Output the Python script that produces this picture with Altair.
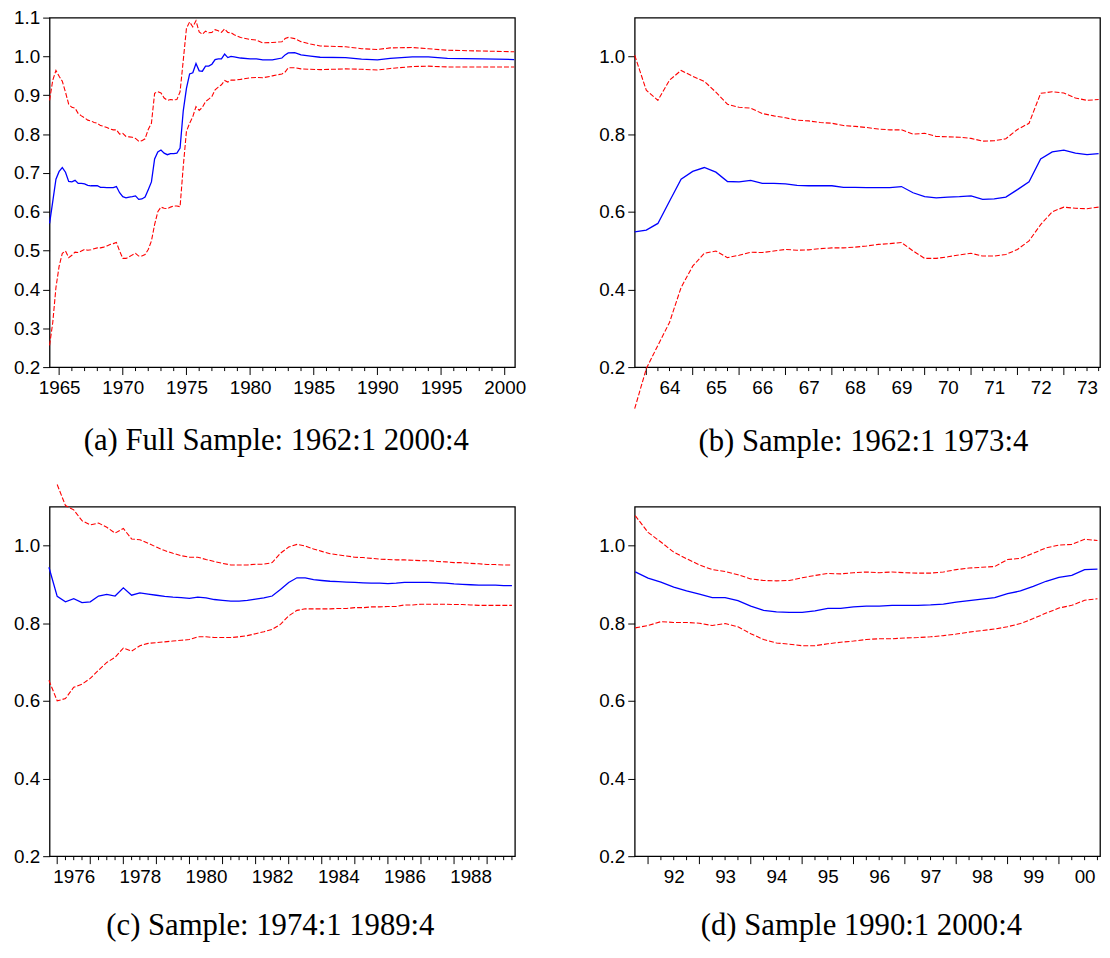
import altair as alt
import pandas as pd
import numpy as np

# ---------------- data ----------------
# Panel (b): recursive estimates, sample 1962:1-1973:4, quarterly 1963:4 .. 1973:4
b_t = [1963.75 + 0.25 * i for i in range(41)]
b_mid = [0.548, 0.553, 0.570, 0.627, 0.684, 0.704, 0.714, 0.702, 0.678, 0.677,
         0.681, 0.673, 0.673, 0.672, 0.668, 0.667, 0.667, 0.667, 0.663, 0.663,
         0.662, 0.662, 0.662, 0.665, 0.649, 0.639, 0.636, 0.638, 0.639, 0.641,
         0.632, 0.633, 0.638, 0.657, 0.677, 0.736, 0.754, 0.759, 0.751, 0.747,
         0.750]
b_up = [1.003, 0.913, 0.887, 0.939, 0.964, 0.949, 0.936, 0.908, 0.877, 0.869,
        0.867, 0.853, 0.847, 0.842, 0.836, 0.834, 0.830, 0.828, 0.822, 0.820,
        0.817, 0.813, 0.811, 0.811, 0.800, 0.802, 0.794, 0.793, 0.792, 0.789,
        0.782, 0.783, 0.788, 0.812, 0.828, 0.905, 0.909, 0.906, 0.893, 0.887,
        0.889]
b_lo = [0.093, 0.196, 0.256, 0.315, 0.405, 0.460, 0.493, 0.499, 0.482, 0.488,
        0.496, 0.495, 0.499, 0.503, 0.501, 0.502, 0.505, 0.507, 0.507, 0.509,
        0.512, 0.516, 0.518, 0.521, 0.499, 0.480, 0.480, 0.484, 0.489, 0.493,
        0.486, 0.486, 0.490, 0.503, 0.525, 0.567, 0.600, 0.612, 0.609, 0.608,
        0.612]

# Panel (a): full sample; 1964:2-1973:4 identical to panel (b), then:
a_t2 = [1974.0, 1974.25, 1974.5, 1974.75, 1975.0, 1975.25, 1975.5, 1975.75,
        1976.0, 1976.25, 1976.5, 1976.75, 1977.0, 1977.25, 1977.5, 1977.75,
        1978.0, 1978.25, 1978.5, 1978.75, 1979.25, 1980.0, 1980.5, 1981.0,
        1981.75, 1982.5, 1982.75, 1983.0, 1983.5, 1984.0, 1984.75, 1985.5,
        1987.5, 1988.75, 1990.0, 1991.0, 1992.75, 1994.0, 1995.5, 1998.25,
        2000.75]
a_mid2 = [0.750, 0.751, 0.764, 0.860, 0.918, 0.955, 0.958, 0.982, 0.963, 0.962,
          0.975, 0.975, 0.980, 0.992, 0.994, 0.994, 1.006, 0.997, 1.000, 0.999,
          0.996, 0.994, 0.994, 0.991, 0.991, 0.996, 1.004, 1.009, 1.010, 1.004,
          1.001, 0.998, 0.997, 0.993, 0.991, 0.995, 0.999, 0.999, 0.995, 0.994,
          0.992]
a_up2 = [0.888, 0.889, 0.909, 0.990, 1.072, 1.089, 1.076, 1.092, 1.063, 1.057,
         1.065, 1.061, 1.062, 1.069, 1.066, 1.062, 1.071, 1.062, 1.061, 1.056,
         1.049, 1.044, 1.042, 1.035, 1.036, 1.038, 1.046, 1.049, 1.046, 1.038,
         1.032, 1.027, 1.025, 1.020, 1.018, 1.022, 1.023, 1.020, 1.016, 1.014,
         1.012]
a_lo2 = [0.615, 0.615, 0.613, 0.717, 0.807, 0.828, 0.845, 0.871, 0.861, 0.869,
         0.884, 0.890, 0.897, 0.914, 0.921, 0.927, 0.938, 0.934, 0.939, 0.939,
         0.941, 0.945, 0.946, 0.945, 0.950, 0.955, 0.960, 0.971, 0.971, 0.968,
         0.967, 0.966, 0.968, 0.967, 0.965, 0.969, 0.974, 0.975, 0.973, 0.973,
         0.973]

# Panel (c): sample 1974:1-1989:4, quarterly 1975:4 .. 1989:4
c_t = [1975.75 + 0.25 * i for i in range(57)]
c_mid = [0.944, 0.869, 0.855, 0.863, 0.853, 0.855, 0.870, 0.874, 0.870, 0.891,
         0.872, 0.878, 0.875, 0.872, 0.869, 0.867, 0.866, 0.864, 0.867, 0.865,
         0.861, 0.859, 0.857, 0.857, 0.859, 0.862, 0.865, 0.870, 0.887, 0.905,
         0.917, 0.917, 0.912, 0.910, 0.908, 0.907, 0.906, 0.905, 0.904, 0.903,
         0.903, 0.902, 0.903, 0.905, 0.905, 0.905, 0.905, 0.904, 0.903, 0.901,
         0.900, 0.899, 0.898, 0.898, 0.898, 0.897, 0.897]
c_up = [1.157, 1.103, 1.092, 1.064, 1.053, 1.058, 1.047, 1.032, 1.044, 1.017,
        1.015, 1.006, 0.996, 0.987, 0.980, 0.974, 0.970, 0.970, 0.964, 0.959,
        0.954, 0.950, 0.950, 0.950, 0.952, 0.952, 0.956, 0.980, 0.996, 1.003,
        0.999, 0.991, 0.985, 0.979, 0.976, 0.973, 0.970, 0.969, 0.967, 0.965,
        0.964, 0.963, 0.963, 0.962, 0.961, 0.961, 0.959, 0.958, 0.956, 0.956,
        0.954, 0.953, 0.951, 0.951, 0.950, 0.950]
c_lo = [0.653, 0.600, 0.606, 0.635, 0.643, 0.658, 0.679, 0.699, 0.712, 0.736,
        0.728, 0.742, 0.748, 0.750, 0.752, 0.754, 0.756, 0.758, 0.765, 0.765,
        0.763, 0.763, 0.763, 0.765, 0.768, 0.773, 0.778, 0.784, 0.797, 0.819,
        0.833, 0.837, 0.837, 0.837, 0.837, 0.838, 0.838, 0.840, 0.840, 0.842,
        0.842, 0.843, 0.843, 0.847, 0.847, 0.849, 0.849, 0.849, 0.849, 0.848,
        0.848, 0.847, 0.846, 0.846, 0.846, 0.846, 0.846]

# Panel (d): sample 1990:1-2000:4, quarterly 1991:4 .. 2000:4
d_t = [1991.75 + 0.25 * i for i in range(37)]
d_mid = [0.932, 0.916, 0.906, 0.893, 0.883, 0.875, 0.866, 0.866, 0.858, 0.844,
         0.833, 0.829, 0.828, 0.828, 0.832, 0.838, 0.838, 0.842, 0.844, 0.844,
         0.846, 0.846, 0.846, 0.847, 0.849, 0.854, 0.858, 0.862, 0.866, 0.876,
         0.883, 0.895, 0.908, 0.918, 0.923, 0.938, 0.939]
d_up = [1.077, 1.034, 1.009, 0.983, 0.966, 0.950, 0.938, 0.933, 0.925, 0.914,
        0.910, 0.909, 0.910, 0.917, 0.923, 0.928, 0.927, 0.930, 0.932, 0.930,
        0.932, 0.930, 0.929, 0.929, 0.932, 0.938, 0.942, 0.944, 0.946, 0.964,
        0.967, 0.980, 0.994, 1.001, 1.003, 1.016, 1.013]
d_lo = [0.788, 0.794, 0.804, 0.802, 0.802, 0.800, 0.794, 0.799, 0.791, 0.773,
        0.758, 0.749, 0.746, 0.742, 0.742, 0.747, 0.751, 0.754, 0.758, 0.760,
        0.760, 0.762, 0.763, 0.765, 0.768, 0.772, 0.777, 0.781, 0.785, 0.791,
        0.799, 0.812, 0.826, 0.839, 0.846, 0.859, 0.863]

captions = ["(a) Full Sample: 1962:1 2000:4", "(b) Sample: 1962:1 1973:4",
            "(c) Sample: 1974:1 1989:4", "(d) Sample 1990:1 2000:4"]

# ---------------- styling ----------------
W, H = 470, 353
BLUE, RED = "#0000FF", "#FF0000"
AX_FONT, CAP_FONT = "Liberation Sans", "Liberation Serif"
LAB = 19


def panel(t, mid, up, lo, up_t, domain, yvals, yfmt, lab_vals, lab_expr,
          major, minor, caption, cap_off, cap_dx):
    xs = alt.Scale(domain=domain, nice=False, zero=False)
    ys = alt.Scale(domain=[0.2, 1.1], nice=False, zero=False)
    xax = alt.Axis(values=lab_vals, labelExpr=lab_expr, ticks=False, domain=False,
                   grid=False, title=None, labelFont=AX_FONT, labelFontSize=LAB,
                   labelColor="black", labelPadding=12, labelOverlap=False,
                   labelFlush=False, labelBound=False)
    yax = alt.Axis(values=yvals, format=yfmt, tickSize=7, tickColor="black",
                   tickWidth=1, domain=False, grid=False, title=None,
                   labelFont=AX_FONT, labelFontSize=LAB, labelColor="black",
                   labelPadding=3, labelFlush=False, labelOverlap=False)
    X = alt.X("t:Q", scale=xs, axis=xax)
    Y = alt.Y("v:Q", scale=ys, axis=yax)

    upper = alt.Chart(pd.DataFrame({"t": up_t, "v": up})).mark_line(
        color=RED, strokeWidth=1.1, strokeDash=[5, 2]).encode(x=X, y=Y)
    lower = alt.Chart(pd.DataFrame({"t": t, "v": lo})).mark_line(
        color=RED, strokeWidth=1.1, strokeDash=[5, 2]).encode(x=X, y=Y)
    middle = alt.Chart(pd.DataFrame({"t": t, "v": mid})).mark_line(
        color=BLUE, strokeWidth=1.3).encode(x=X, y=Y)
    maj = alt.Chart(pd.DataFrame({"t": major})).mark_rule(
        color="black", strokeWidth=1).encode(x=X, y=alt.value(H), y2=alt.value(H + 8))
    mnr = alt.Chart(pd.DataFrame({"t": minor})).mark_rule(
        color="black", strokeWidth=1).encode(x=X, y=alt.value(H), y2=alt.value(H + 4))
    return alt.layer(maj, mnr, upper, lower, middle).properties(
        width=W, height=H,
        title=alt.TitleParams(text=caption, orient="bottom", anchor="middle",
                              frame="group", font=CAP_FONT, fontSize=31,
                              fontWeight="normal", color="black",
                              offset=cap_off, dx=cap_dx))


q = lambda a, b: [y + k / 4 for y in range(a, b + 1) for k in range(4)]

# panel (a)
a_t = b_t[2:] + a_t2
pa = panel(a_t, b_mid[2:] + a_mid2, b_up[2:] + a_up2, b_lo[2:] + a_lo2, a_t,
           [1964.25, 2000.8], [round(0.2 + 0.1 * i, 1) for i in range(10)], ".1f",
           list(range(1965, 2001, 5)), "format(datum.value, 'd')",
           list(range(1965, 2001, 5)),
           [y for y in range(1965, 2001) if y % 5 != 0],
           captions[0], 29, -6)

# panel (b): its lower band hangs below the frame, so the caption offset is smaller
pb = panel(b_t, b_mid, b_up, b_lo, b_t,
           [1963.75, 1973.78], [0.2, 0.4, 0.6, 0.8, 1.0], ".1f",
           [y + 0.5 for y in range(1964, 1974)],
           "format(floor(datum.value) % 100, '02d')",
           list(range(1964, 1974)),
           [v for v in q(1964, 1973) if v % 1 != 0],
           captions[1], 17, -4)

pc = panel(c_t, c_mid, c_up, c_lo, c_t[1:],
           [1975.77, 1989.84], [0.2, 0.4, 0.6, 0.8, 1.0], ".1f",
           [y + 0.5 for y in range(1976, 1989, 2)],
           "format(floor(datum.value), 'd')",
           list(range(1976, 1990)),
           [v for v in q(1976, 1989) if v % 1 != 0],
           captions[2], 25, -12)

pd_ = panel(d_t, d_mid, d_up, d_lo, d_t,
            [1991.74, 2000.8], [0.2, 0.4, 0.6, 0.8, 1.0], ".1f",
            [y + 0.5 for y in range(1992, 2001)],
            "format(floor(datum.value) % 100, '02d')",
            list(range(1992, 2001)),
            [v for v in q(1992, 2000) if v % 1 != 0 and v < 2000.8],
            captions[3], 25, -6)

chart = alt.concat(pa, pb, pc, pd_, columns=2, bounds="flush",
                   spacing={"row": 141, "column": 121}).properties(
    padding={"left": 4, "top": -5, "right": 0, "bottom": 0},
    background="white",
).configure_view(stroke="black", strokeWidth=1.3)

chart.save("out.html", embed_options={"renderer": "svg", "actions": False})
